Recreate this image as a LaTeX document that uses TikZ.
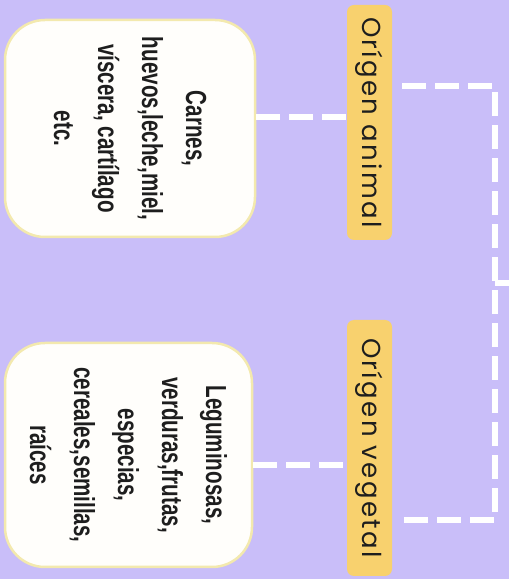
\documentclass[tikz,border=0pt]{standalone}
\usepackage{fontspec}
\setmainfont{Liberation Sans}
\newfontfamily\condfont[FakeStretch=0.71]{Liberation Sans Bold}
\newfontfamily\labfont[LetterSpace=9]{Poppins}
\usetikzlibrary{calc}
\definecolor{bgc}{HTML}{C9BEF9}
\definecolor{labc}{HTML}{F8D16E}
\definecolor{boxline}{HTML}{F3E9AE}
\definecolor{boxfill}{HTML}{FFFEFB}
\definecolor{txt}{HTML}{1E1E1E}
\tikzset{
  x=1pt,y=1pt,
  itembox/.style={draw=boxline,line width=2.5pt,fill=boxfill,rounded corners=40pt,
    rotate=-90,align=center,inner sep=0pt,text=txt,
    font=\condfont\fontsize{29}{44}\selectfont},
  labbox/.style={fill=labc,rounded corners=7pt,rotate=-90,inner sep=0pt,
    text=txt,font=\labfont\fontsize{26}{30}\selectfont},
  dashline/.style={draw=white,line width=6pt,dash pattern=on 24pt off 9pt}
}
\begin{document}
\begin{tikzpicture}
\fill[bgc] (0,0) rectangle (509,579);
\useasboundingbox (0,0) rectangle (509,579);
\node[itembox,minimum width=217pt,minimum height=250pt] (box1) at (130,450.5)
  {Carnes,\\huevos,leche,miel,\\víscera, cartílago\\etc.};
\node[itembox,minimum width=224pt,minimum height=247pt] (box2) at (128.5,124)
  {Leguminosas,\\verduras,frutas,\\especias,\\cereales,semillas,\\raíces};
\node[labbox,minimum width=235pt,minimum height=45pt] (lab1) at (369.5,456.5) {Orígen animal};
\node[labbox,minimum width=256pt,minimum height=45pt] (lab2) at (369.5,131) {Orígen vegetal};
\coordinate (c1) at (0,462);
\coordinate (c2) at (0,114);
\draw[dashline] (box1.north |- c1) -- (lab1.south |- c1);
\draw[dashline] (box2.north |- c2) -- (lab2.south |- c2);
\coordinate (b1) at (495,493);
\coordinate (b2) at (495,59);
\coordinate (bm) at (495,296);
\coordinate (bout) at (512,296);
\draw[dashline] ($(lab1.north |- b1)+(10,0)$) -- (b1) -- (b2) -- ($(lab2.north |- b2)+(10,0)$);
\draw[dashline,dash pattern=on 30pt off 0pt] (bm) -- (bout);
\end{tikzpicture}
\end{document}
